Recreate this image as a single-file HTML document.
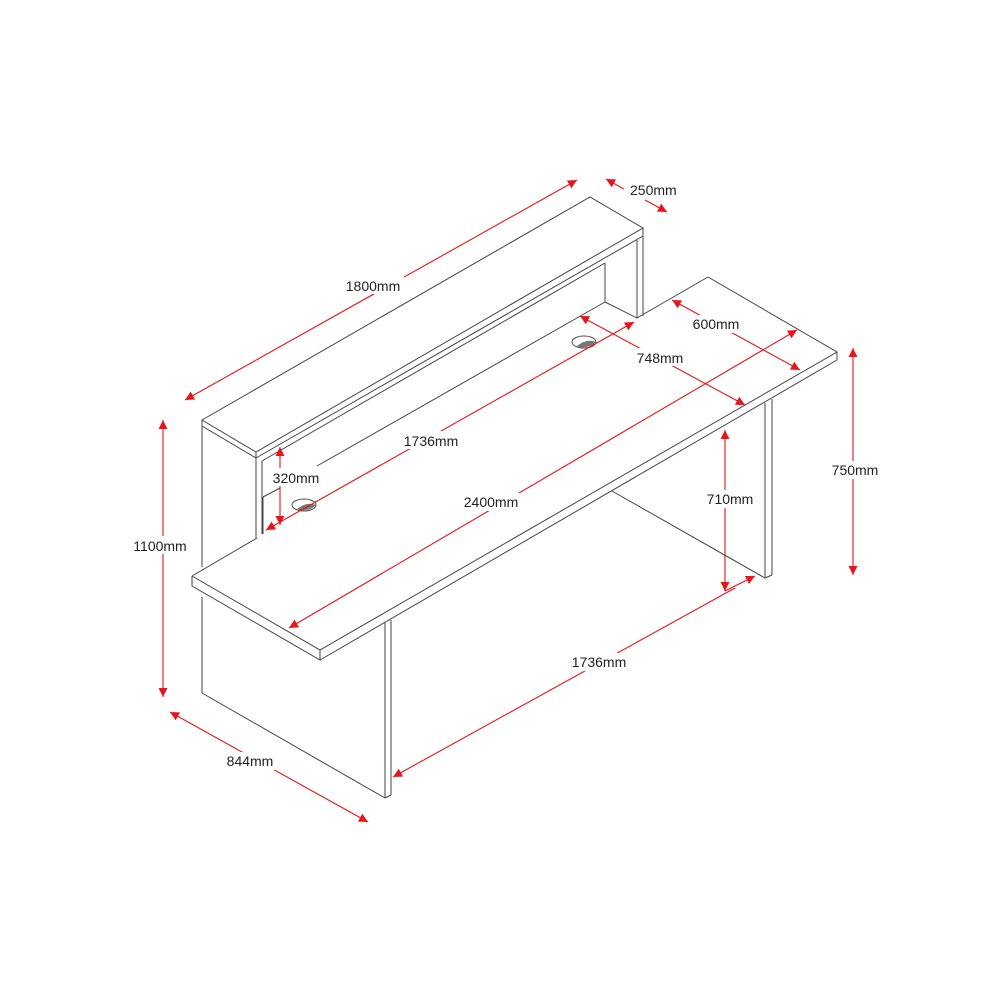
<!DOCTYPE html>
<html><head><meta charset="utf-8"><style>
html,body{margin:0;padding:0;background:#fff;}
svg{display:block;}
text{font-family:"Liberation Sans",Arial,sans-serif;font-size:14px;fill:#222;}
</style></head><body>
<svg width="1000" height="1000" viewBox="0 0 1000 1000" xmlns="http://www.w3.org/2000/svg">
<defs>
<marker id="a" viewBox="0 0 10 10" refX="10" refY="5" markerWidth="13" markerHeight="9" markerUnits="userSpaceOnUse" orient="auto-start-reverse">
<path d="M0,0 L10,5 L0,10 z" fill="#e8141c"/>
</marker>
</defs>
<g fill="none" stroke="#444" stroke-width="1">
<!-- hutch top slab -->
<polygon points="202,420 590,197 643,228 256,452" fill="#fff"/>
<polyline points="202,420 202,426 256,458 256,452"/>
<polyline points="256,458 643,236 643,228"/>
<!-- hutch under lines -->
<line x1="262" y1="461" x2="605" y2="263"/>
<line x1="605" y1="263" x2="605" y2="302"/>
<line x1="637" y1="240" x2="637" y2="318"/>
<line x1="643" y1="236" x2="643" y2="316"/>
<line x1="605" y1="302" x2="637" y2="318"/>
<line x1="605" y1="302" x2="317" y2="466"/>
<!-- hutch left front panel -->
<line x1="256" y1="458" x2="256" y2="538"/>
<line x1="262" y1="461" x2="262" y2="534"/>
<polyline points="263,497 280,488"/>
<line x1="263" y1="497" x2="263" y2="534"/>
<!-- left side line -->
<line x1="202" y1="426" x2="202" y2="567"/>
<line x1="202" y1="597" x2="202" y2="693"/>
<line x1="202" y1="693" x2="385" y2="798"/>
<line x1="385" y1="623" x2="385" y2="798"/>
<line x1="391" y1="620" x2="391" y2="795"/>
<line x1="385" y1="798" x2="391" y2="795"/>
<!-- counter back edge -->
<line x1="637" y1="318" x2="708" y2="277"/>
<line x1="192" y1="576" x2="257" y2="538"/>
<!-- counter top -->
<polyline points="192,576 320,650 837,352 708,277"/>
<polyline points="192,576 192,586 320,660 320,650"/>
<polyline points="320,660 837,360 837,352"/>
<!-- right leg -->
<line x1="765" y1="403" x2="765" y2="578"/>
<line x1="772" y1="399" x2="772" y2="575"/>
<line x1="765" y1="578" x2="772" y2="575"/>
<line x1="612" y1="491" x2="765" y2="578"/>
</g>
<!-- grommets -->
<ellipse cx="304" cy="505" rx="12" ry="6" fill="#fff" stroke="#555"/>
<path d="M296,510 Q306,501 316,505 Q310,512 296,510z" fill="#777"/>
<ellipse cx="584" cy="342" rx="12" ry="6" fill="#fff" stroke="#555"/>
<path d="M576,347 Q586,338 596,342 Q590,349 576,347z" fill="#777"/>
<!-- dimension lines -->
<g stroke="#e8141c" stroke-width="1.1" fill="none">
<line x1="185" y1="400" x2="577" y2="180" marker-start="url(#a)" marker-end="url(#a)"/>
<line x1="606" y1="179" x2="624" y2="189" marker-start="url(#a)"/>
<line x1="645" y1="200" x2="667" y2="212" marker-end="url(#a)"/>
<line x1="266" y1="530" x2="634" y2="322" marker-start="url(#a)" marker-end="url(#a)"/>
<line x1="280" y1="447" x2="280" y2="525" marker-start="url(#a)" marker-end="url(#a)"/>
<line x1="580" y1="316" x2="745" y2="405" marker-start="url(#a)" marker-end="url(#a)"/>
<line x1="672" y1="300" x2="800" y2="370" marker-start="url(#a)" marker-end="url(#a)"/>
<line x1="289" y1="628" x2="797" y2="330" marker-start="url(#a)" marker-end="url(#a)"/>
<line x1="725" y1="430" x2="725" y2="591" marker-start="url(#a)" marker-end="url(#a)"/>
<line x1="725" y1="591" x2="755" y2="576" marker-end="url(#a)"/>
<line x1="853" y1="348" x2="853" y2="575" marker-start="url(#a)" marker-end="url(#a)"/>
<line x1="163" y1="420" x2="163" y2="697" marker-start="url(#a)" marker-end="url(#a)"/>
<line x1="170" y1="712" x2="368" y2="822" marker-start="url(#a)" marker-end="url(#a)"/>
<line x1="393" y1="777" x2="735" y2="588" marker-start="url(#a)"/>
</g>
<!-- labels -->
<g>
<rect x="342" y="276" width="62" height="18" fill="#fff"/>
<text x="373" y="291" text-anchor="middle">1800mm</text>
<text x="630" y="195">250mm</text>
<rect x="400" y="431" width="62" height="18" fill="#fff"/>
<text x="431" y="446" text-anchor="middle">1736mm</text>
<rect x="268" y="468" width="56" height="18" fill="#fff"/>
<text x="296" y="483" text-anchor="middle">320mm</text>
<rect x="632" y="348" width="56" height="18" fill="#fff"/>
<text x="660" y="363" text-anchor="middle">748mm</text>
<rect x="688" y="315" width="56" height="18" fill="#fff"/>
<text x="716" y="329" text-anchor="middle">600mm</text>
<rect x="460" y="493" width="62" height="18" fill="#fff"/>
<text x="491" y="507" text-anchor="middle">2400mm</text>
<rect x="702" y="490" width="56" height="18" fill="#fff"/>
<text x="730" y="504" text-anchor="middle">710mm</text>
<rect x="827" y="461" width="56" height="18" fill="#fff"/>
<text x="855" y="475" text-anchor="middle">750mm</text>
<rect x="127" y="536" width="66" height="18" fill="#fff"/>
<text x="160" y="551" text-anchor="middle">1100mm</text>
<rect x="222" y="752" width="56" height="18" fill="#fff"/>
<text x="250" y="766" text-anchor="middle">844mm</text>
<rect x="568" y="653" width="62" height="18" fill="#fff"/>
<text x="599" y="667" text-anchor="middle">1736mm</text>
</g>
</svg>
</body></html>
